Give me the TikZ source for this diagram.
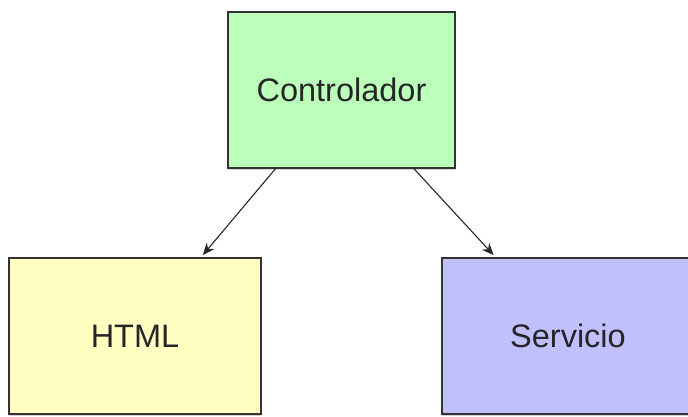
\documentclass[tikz,border=0pt]{standalone}
\usepackage{fontspec}
\setmainfont{Liberation Sans}
\usepackage{tikz}
\usetikzlibrary{positioning, arrows.meta, shadows}
\definecolor{ctrlgreen}{HTML}{BBFFBB}
\definecolor{htmlyellow}{HTML}{FFFEC0}
\definecolor{servblue}{HTML}{C0C0FF}
\tikzset{
  box/.style = {draw=black!80, line width=1.3pt, minimum height=156pt,
    font=\fontsize{32.5}{39}\selectfont, text=black!85,
    drop shadow={shadow xshift=0pt, shadow yshift=-2pt, opacity=0.35}}
}

\begin{document}
\begin{tikzpicture} [node distance = 246pt and 206.5pt, on grid, auto]
\useasboundingbox (0,0) rectangle (688pt,416pt);
\node (ctrl) [box, fill=ctrlgreen, minimum width=227pt] at (341.5pt,326pt) {Controlador};
\node (html) [box, fill=htmlyellow, minimum width=252pt, below left = of ctrl] {HTML};
\node (serv) [box, fill=servblue, minimum width=252pt, below right = 246pt and 226.5pt of ctrl] {Servicio};
\path [-{Stealth[length=12pt, width=10pt]}, line width=1.1pt, black!85, shorten >=3pt]
    (ctrl) edge (html)
    (ctrl) edge (serv);
\end{tikzpicture}
\end{document}
